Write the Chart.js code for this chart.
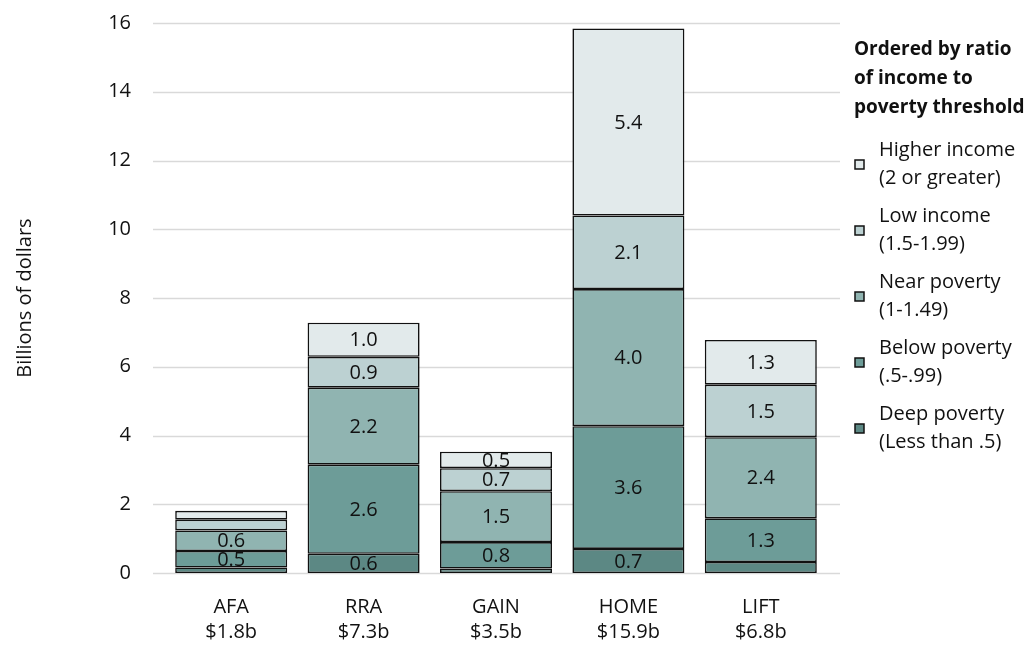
<!DOCTYPE html>
<html>
<head>
<meta charset="utf-8">
<script src="https://cdn.jsdelivr.net/npm/chart.js@4.4.1/dist/chart.umd.min.js"></script>
<style>
  html, body { margin: 0; padding: 0; background: #ffffff; }
  #wrap { width: 1036px; height: 646px; position: relative; }
</style>
</head>
<body>
<div id="wrap"><canvas id="c" width="1036" height="646"></canvas></div>
<script>
// Programs and their total spending
const programs = ['AFA', 'RRA', 'GAIN', 'HOME', 'LIFT'];
const totalLabels = ['$1.8b', '$7.3b', '$3.5b', '$15.9b', '$6.8b'];

// Billions of dollars by income-to-poverty ratio group
const deepPoverty  = [0.16, 0.56, 0.13, 0.70, 0.32];
const belowPoverty = [0.48, 2.59, 0.77, 3.57, 1.27];
const nearPoverty  = [0.60, 2.24, 1.48, 3.99, 2.36];
const lowIncome    = [0.31, 0.90, 0.67, 2.14, 1.53];
const higherIncome = [0.26, 0.99, 0.48, 5.44, 1.30];

const yTicks = [0, 2, 4, 6, 8, 10, 12, 14, 16];

const legendTitle = ['Ordered by ratio', 'of income to', 'poverty threshold'];
const groupNames = [
  ['Deep poverty', '(Less than .5)'],
  ['Below poverty', '(.5-.99)'],
  ['Near poverty', '(1-1.49)'],
  ['Low income', '(1.5-1.99)'],
  ['Higher income', '(2 or greater)']
];
const groupColors = ['#5c8884', '#6d9c98', '#90b4b1', '#bcd1d2', '#e2eaeb'];

const FONT = '"Open Sans", "Noto Sans", sans-serif';
const TEXT = '#111111';
const SIZE = 20;

const seriesValues = [deepPoverty, belowPoverty, nearPoverty, lowIncome, higherIncome];
const datasets = seriesValues.map((vals, i) => ({
  label: groupNames[i].join(' '),
  data: vals,
  backgroundColor: groupColors[i],
  borderColor: '#111111',
  borderWidth: 1.6,
  borderSkipped: false,
  barPercentage: 0.846,
  categoryPercentage: 1.0
}));

// Horizontal gridlines that run slightly past the plot on both sides
const gridPlugin = {
  id: 'wideGrid',
  beforeDatasetsDraw(chart) {
    const { ctx, chartArea, scales } = chart;
    ctx.save();
    ctx.strokeStyle = '#d9d9d9';
    ctx.lineWidth = 1.5;
    yTicks.forEach(v => {
      const y = Math.round(scales.y.getPixelForValue(v)) + 0.5;
      ctx.beginPath();
      ctx.moveTo(chartArea.left - 12, y);
      ctx.lineTo(chartArea.right + 13, y);
      ctx.stroke();
    });
    ctx.restore();
  }
};

// Value labels centred in each segment large enough to hold them
const segmentLabels = {
  id: 'segmentLabels',
  afterDatasetsDraw(chart) {
    const { ctx } = chart;
    ctx.save();
    ctx.font = SIZE + 'px ' + FONT;
    ctx.fillStyle = TEXT;
    ctx.textAlign = 'center';
    ctx.textBaseline = 'middle';
    chart.data.datasets.forEach((ds, di) => {
      const meta = chart.getDatasetMeta(di);
      meta.data.forEach((bar, i) => {
        const v = ds.data[i];
        if (v < 0.45) return;
        const yMid = (bar.y + bar.base) / 2;
        ctx.fillText(v.toFixed(1), bar.x, yMid + 1);
      });
    });
    ctx.restore();
  }
};

// Legend panel on the right, highest income group first
const sideLegend = {
  id: 'sideLegend',
  afterDraw(chart) {
    const { ctx } = chart;
    const x0 = 854;
    ctx.save();
    ctx.fillStyle = TEXT;
    ctx.textAlign = 'left';
    ctx.textBaseline = 'middle';
    ctx.font = 'bold 19px ' + FONT;
    legendTitle.forEach((t, i) => ctx.fillText(t, x0, 50 + i * 28.7));
    ctx.font = SIZE + 'px ' + FONT;
    const order = [4, 3, 2, 1, 0];
    order.forEach((g, k) => {
      const y1 = 150 + k * 66;
      ctx.fillStyle = TEXT;
      ctx.fillText(groupNames[g][0], 879, y1);
      ctx.fillText(groupNames[g][1], 879, y1 + 28);
      ctx.fillStyle = groupColors[g];
      ctx.fillRect(855, y1 + 10, 9, 9);
      ctx.strokeStyle = '#111111';
      ctx.lineWidth = 1.5;
      ctx.strokeRect(855, y1 + 10, 9, 9);
    });
    ctx.restore();
  }
};

new Chart(document.getElementById('c'), {
  type: 'bar',
  data: {
    labels: programs.map((p, i) => [p, totalLabels[i]]),
    datasets
  },
  options: {
    responsive: false,
    animation: false,
    layout: { padding: { top: 23, right: 209, bottom: 0, left: 0 } },
    plugins: { legend: { display: false }, tooltip: { enabled: false } },
    scales: {
      x: {
        stacked: true,
        grid: { display: false },
        border: { display: false },
        ticks: { color: TEXT, font: { family: FONT, size: SIZE, lineHeight: 1.25 }, padding: 14, maxRotation: 0 },
        afterFit(s) { s.height = 73; s.paddingLeft = 0; s.paddingRight = 0; }
      },
      y: {
        stacked: true,
        min: 0,
        max: 16,
        afterBuildTicks(s) { s.ticks = yTicks.map(v => ({ value: v })); },
        grid: { display: false },
        border: { display: false },
        ticks: { color: TEXT, font: { family: FONT, size: SIZE }, padding: 26 },
        title: {
          display: true,
          text: 'Billions of dollars',
          color: TEXT,
          font: { family: FONT, size: SIZE },
          padding: { top: 13, bottom: 0 }
        },
        afterFit(s) { s.width = 165; s.paddingTop = 0; s.paddingBottom = 0; }
      }
    }
  },
  plugins: [gridPlugin, segmentLabels, sideLegend]
});
</script>
</body>
</html>
